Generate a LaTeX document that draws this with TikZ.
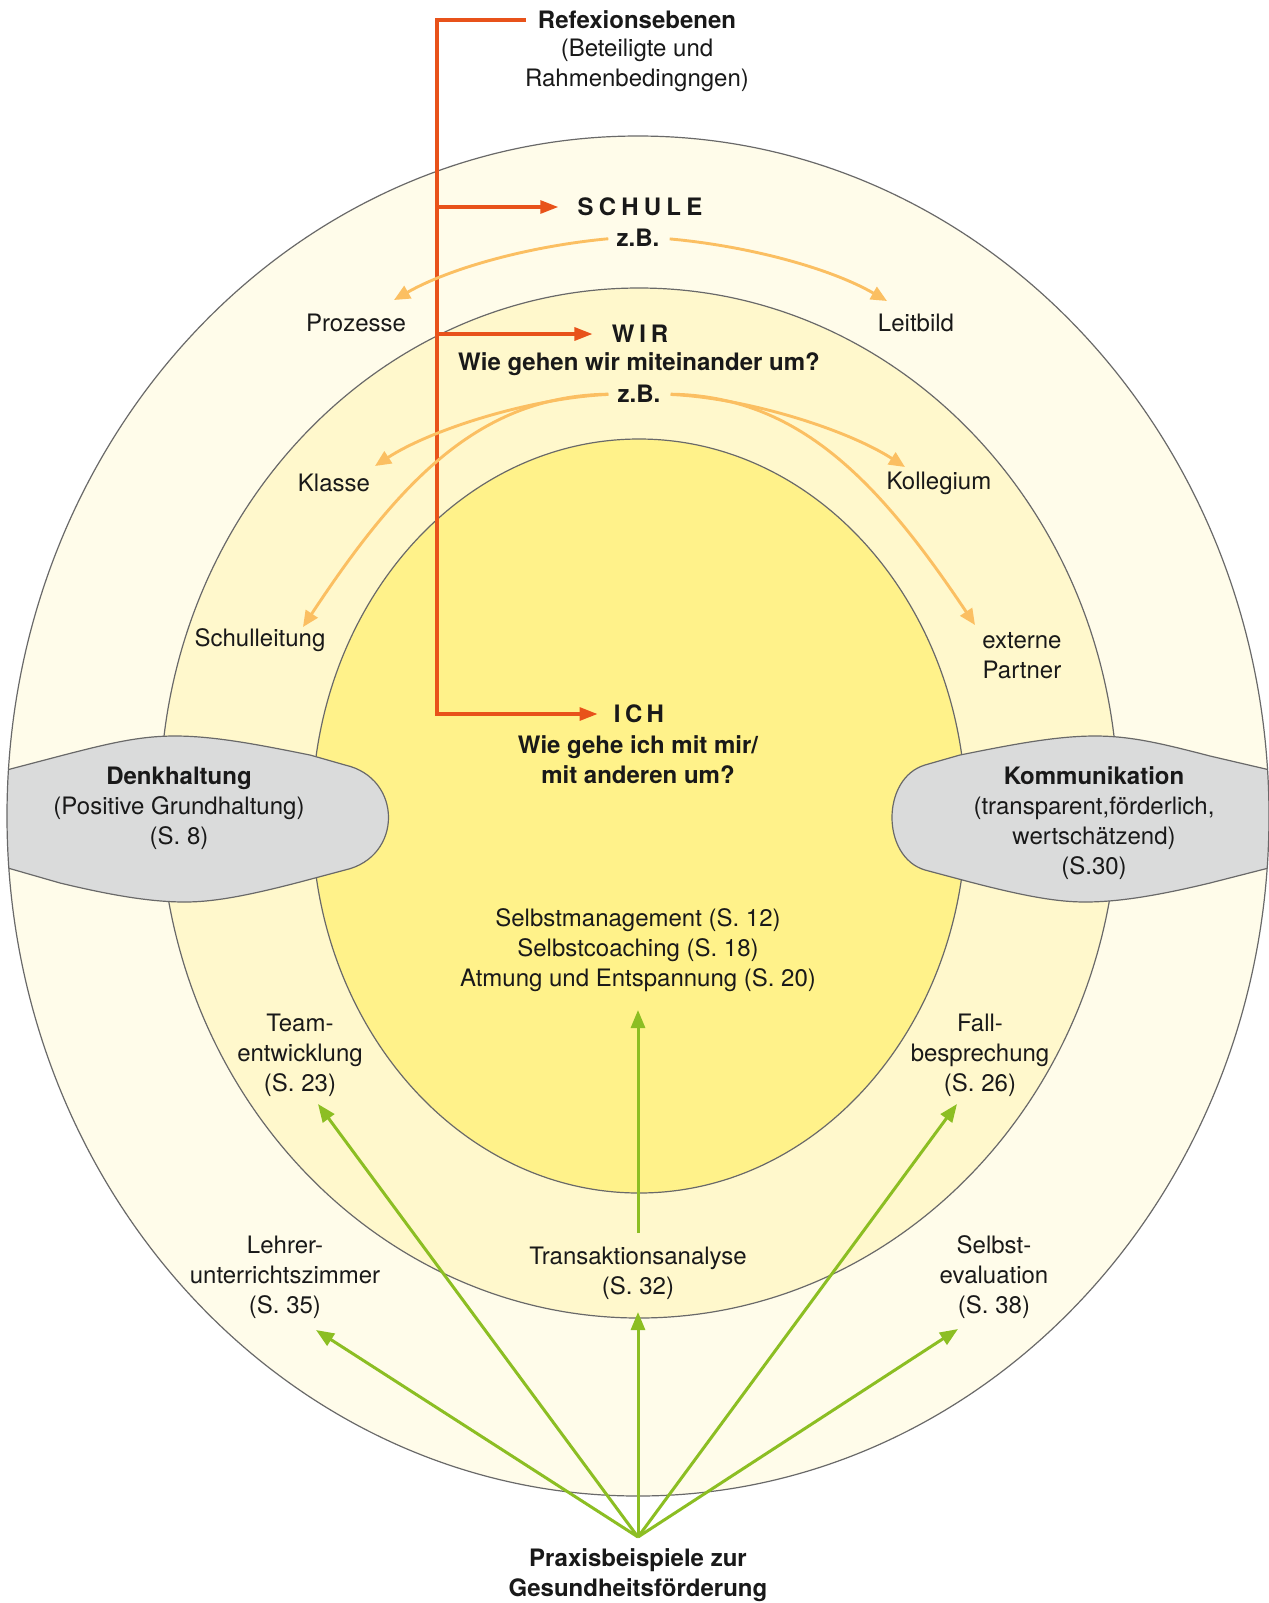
\documentclass[tikz,border=0pt]{standalone}
\usepackage{fontspec}
\setmainfont{TeX Gyre Heros}
\usetikzlibrary{arrows.meta}
\definecolor{outerc}{RGB}{255,252,234}
\definecolor{midc}{RGB}{255,248,204}
\definecolor{innerc}{RGB}{255,242,138}
\definecolor{ringline}{RGB}{105,105,105}
\definecolor{grayc}{RGB}{218,219,219}
\definecolor{redc}{RGB}{232,82,26}
\definecolor{orangec}{RGB}{251,191,98}
\definecolor{greenc}{RGB}{140,190,35}
\definecolor{ink}{RGB}{25,25,25}
\begin{document}
\begin{tikzpicture}[x=0.5pt,y=-0.5pt,
  txt/.style={font=\fontsize{12pt}{15.1pt}\selectfont, align=center, inner sep=0pt, text=ink},
  btxt/.style={txt, font=\fontsize{12pt}{15.1pt}\selectfont\bfseries},
  ring/.style={draw=ringline, line width=0.6pt},
  redline/.style={draw=redc, line width=1.55pt},
  redarrow/.style={redline, -{Triangle[length=9pt,width=6.5pt]}},
  oarrow/.style={draw=orangec, line width=1.45pt, -{Triangle[length=8pt,width=7pt]}},
  garrow/.style={draw=greenc, line width=1.5pt, -{Triangle[length=9pt,width=7pt]}},
  blob/.style={fill=grayc, draw=ringline, line width=0.6pt}]
\path[use as bounding box] (0,0) rectangle (1269,1603);
\clip (0,0) rectangle (1269,1603);
\fill[white] (0,0) rectangle (1269,1603);
% rings
\fill[outerc] (638,816) ellipse [x radius=631, y radius=680];
\filldraw[fill=midc, ring] (639,803) ellipse [x radius=479, y radius=515];
\filldraw[fill=innerc, ring] (639,816) ellipse [x radius=327, y radius=377];
% grey blobs
\begin{scope}
\clip (638,816) ellipse [x radius=631, y radius=680];
\path[blob] (-20,777) -- (60,756) .. controls (110,743) and (140,736) .. (175,736)
  .. controls (215,736) and (260,745) .. (310,755) -- (345,765)
  .. controls (403,778) and (403,857) .. (345,870) -- (300,882)
  .. controls (250,895) and (215,902) .. (185,902)
  .. controls (150,902) and (110,895) .. (60,883) -- (-20,860) -- cycle;
\path[blob] (1300,777) -- (1210,756) .. controls (1160,743) and (1130,736) .. (1095,736)
  .. controls (1055,736) and (1010,745) .. (960,755) -- (925,765)
  .. controls (881,778) and (881,857) .. (925,870) -- (970,882)
  .. controls (1020,895) and (1055,902) .. (1085,902)
  .. controls (1120,902) and (1160,895) .. (1210,883) -- (1300,860) -- cycle;
\end{scope}
\draw[ring] (638,816) ellipse [x radius=631, y radius=680];
% texts
\node[btxt] (refT) at (637,20) {Refexionsebenen};
\node[txt] (refS) at (637,65) {(Beteiligte und\\Rahmenbedingngen)};
\node[btxt] (schule) at (640,207) {S\kern2.6pt C\kern2.6pt H\kern2.6pt U\kern2.6pt L\kern2.6pt E};
\node[btxt] (zb1) at (638,238) {z.B.};
\node[txt] (proz) at (356,323) {Prozesse};
\node[txt] (leit) at (916,323) {Leitbild};
\node[btxt] (wir) at (640,334) {W\kern2.4pt I\kern2.4pt R};
\node[btxt] (wirq) at (639,364) {Wie gehen wir miteinander um?};
\node[btxt] (zb2) at (639,394) {z.B.};
\node[txt] (klasse) at (334,483) {Klasse};
\node[txt] (koll) at (939,483) {Kollegium};
\node[txt] (schul) at (260,640) {Schulleitung};
\node[txt] (ext) at (1022,656) {externe\\Partner};
\node[btxt] (ich) at (639,714) {I\kern2.2pt C\kern2.2pt H};
\node[btxt] (ichq) at (638,760) {Wie gehe ich mit mir/\\mit anderen um?};
\node[txt] (denk) at (179,808) {\textbf{Denkhaltung}\\(Positive Grundhaltung)\\(S. 8)};
\node[txt] (komm) at (1094,823) {\textbf{Kommunikation}\\(transparent,förderlich,\\wertschätzend)\\(S.30)};
\node[txt] (selbst) at (638,950) {Selbstmanagement (S. 12)\\Selbstcoaching (S. 18)\\Atmung und Entspannung (S. 20)};
\node[txt] (team) at (300,1055) {Team-\\entwicklung\\(S. 23)};
\node[txt] (fall) at (980,1055) {Fall-\\besprechung\\(S. 26)};
\node[txt] (trans) at (638,1273) {Transaktionsanalyse\\(S. 32)};
\node[txt] (lehrer) at (285,1277) {Lehrer-\\unterrichtszimmer\\(S. 35)};
\node[txt] (sev) at (994,1277) {Selbst-\\evaluation\\(S. 38)};
\node[btxt] (praxis) at (638,1575) {Praxisbeispiele zur\\Gesundheitsförderung};
% coordinates
\coordinate (vx) at (437,0);
\coordinate (tProz) at (394,300);
\coordinate (tLeit) at (887,301);
\coordinate (tKlasse) at (375,466);
\coordinate (tSchul) at (303,627);
\coordinate (tKoll) at (905,467);
\coordinate (tExt) at (975,625);
\coordinate (apex) at (638,1537);
\coordinate (tTrans) at (638,1312);
\coordinate (tSelbst) at (638,1010);
\coordinate (tTeam) at (318,1104);
\coordinate (tLehrer) at (316,1330);
\coordinate (tFall) at (957,1104);
\coordinate (tSev) at (958,1329);
% red connectors
\draw[redarrow, shorten <=6pt, shorten >=8pt] (refT.west) -- (refT.west -| vx) -- (ich.west -| vx) -- (ich.west);
\draw[redarrow, shorten >=9.5pt] (schule.west -| vx) -- (schule.west);
\draw[redarrow, shorten >=9.5pt] (wir.west -| vx) -- (wir.west);
% orange connectors
\draw[oarrow, shorten <=4pt] (zb1.west) .. controls (530,246) and (450,268) .. (tProz);
\draw[oarrow, shorten <=5pt] (zb1.east) .. controls (748,246) and (830,268) .. (tLeit);
\draw[oarrow, shorten <=4.5pt] (zb2.west) .. controls (530,398) and (430,430) .. (tKlasse);
\draw[oarrow, shorten <=4.5pt] (zb2.west) .. controls (480,396) and (400,480) .. (tSchul);
\draw[oarrow, shorten <=5pt] (zb2.east) .. controls (748,398) and (848,430) .. (tKoll);
\draw[oarrow, shorten <=5pt] (zb2.east) .. controls (798,396) and (878,480) .. (tExt);
% green connectors
\draw[garrow] (apex) -- (tTrans);
\draw[garrow, shorten <=6.5pt] (trans.north) -- (tSelbst);
\draw[garrow] (apex) -- (tTeam);
\draw[garrow] (apex) -- (tLehrer);
\draw[garrow] (apex) -- (tFall);
\draw[garrow] (apex) -- (tSev);
\end{tikzpicture}
\end{document}
